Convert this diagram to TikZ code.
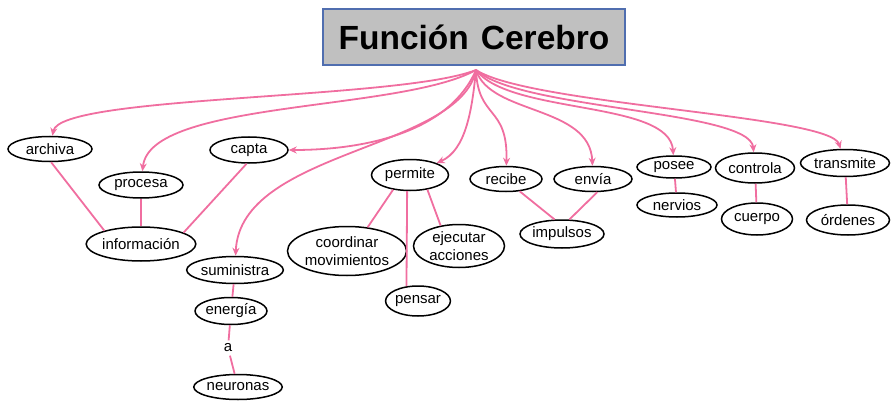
\documentclass[tikz,border=0pt]{standalone}
\usepackage{fontspec}
\setmainfont{Liberation Sans}
\usetikzlibrary{arrows.meta,shapes.geometric}
\definecolor{linkpink}{RGB}{240,110,160}
\definecolor{titlegray}{RGB}{192,192,192}
\definecolor{titleblue}{RGB}{80,110,175}
\tikzset{
	concept/.style={ellipse, draw=black, line width=1.5pt, inner sep=0pt,
			font=\fontsize{15}{17.5}\selectfont, align=center},
	link/.style={draw=linkpink, line width=1.8pt},
	arrowlink/.style={link, -{Stealth[length=8pt,width=7pt]}}
}

\begin{document}
\begin{tikzpicture}[x=1pt,y=-1pt]
	\useasboundingbox (0,0) rectangle (891,401);

	% Draw the title box
	\node[draw=titleblue, fill=titlegray, line width=1.2pt, minimum width=302, minimum height=56,
		font=\bfseries\fontsize{33.5}{38}\selectfont] (title) at (474,37) {Función\hspace{12pt}Cerebro};
	\coordinate (hub) at (476,70);

	% Left branch
	\node[concept, minimum width=84, minimum height=25] (archiva) at (50,149) {archiva};
	\node[concept, minimum width=84, minimum height=26] (procesa) at (141,185) {procesa};
	\node[concept, minimum width=78, minimum height=26] (capta) at (249,150) {capta};
	\node[concept, minimum width=98, minimum height=34] (informacion) at (141,244) {información};
	\node[concept, minimum width=91, minimum height=27] (suministra) at (235,270) {suministra};
	\node[concept, minimum width=71, minimum height=27] (energia) at (231,311) {energía};
	\node[font=\fontsize{15}{17.5}\selectfont] (a) at (228,348) {a};
	\node[concept, minimum width=85, minimum height=25] (neuronas) at (238,387) {neuronas};

	% Middle branch
	\node[concept, minimum width=105, minimum height=49] (coordinar) at (347,251) {coordinar\\movimientos};
	\node[concept, minimum width=77, minimum height=31] (permite) at (410,175) {permite};
	\node[concept, minimum width=91, minimum height=43] (ejecutar) at (459,246) {ejecutar\\acciones};
	\node[concept, minimum width=62, minimum height=30] (pensar) at (418,301) {pensar};
	\node[concept, minimum width=72, minimum height=25] (recibe) at (506,179) {recibe};
	\node[concept, minimum width=78, minimum height=25] (envia) at (593,179) {envía};
	\node[concept, minimum width=84, minimum height=28] (impulsos) at (562,234) {impulsos};

	% Right branch
	\node[concept, minimum width=74, minimum height=22] (posee) at (674,167) {posee};
	\node[concept, minimum width=80, minimum height=24] (nervios) at (677,205) {nervios};
	\node[concept, minimum width=79, minimum height=30] (controla) at (755,168) {controla};
	\node[concept, minimum width=71, minimum height=32] (cuerpo) at (757,219) {cuerpo};
	\node[concept, minimum width=89, minimum height=27] (transmite) at (845,163) {transmite};
	\node[concept, minimum width=83, minimum height=30] (ordenes) at (848,220) {órdenes};

	% Arrows from the title
	\draw[arrowlink] (hub) .. controls (400,100) and (60,95) .. (archiva);
	\draw[arrowlink] (hub) .. controls (400,112) and (150,100) .. (procesa);
	\draw[arrowlink] (hub) .. controls (450,130) and (370,150) .. (capta);
	\draw[arrowlink] (hub) .. controls (460,150) and (240,150) .. (suministra);
	\draw[arrowlink] (hub) .. controls (472,110) and (466,150) .. (permite);
	\draw[arrowlink] (hub) .. controls (478,120) and (508,105) .. (recibe);
	\draw[arrowlink] (hub) .. controls (490,115) and (590,105) .. (envia);
	\draw[arrowlink] (hub) .. controls (510,115) and (670,100) .. (posee);
	\draw[arrowlink] (hub) .. controls (520,110) and (750,110) .. (controla);
	\draw[arrowlink] (hub) .. controls (530,105) and (830,115) .. (transmite);

	% Plain links
	\draw[link] (archiva.-85) -- (informacion.160);
	\draw[link] (procesa) -- (informacion);
	\draw[link] (capta.-100) -- (informacion.15);
	\draw[link] (suministra) -- (energia);
	\draw[link] (energia) -- (a);
	\draw[link] (a) -- (neuronas);
	\draw[link] (permite.-139) -- (coordinar.49);
	\draw[link] (permite.-100) -- (pensar.128);
	\draw[link] (permite.-40) -- (ejecutar.132);
	\draw[link] (recibe.-42) -- (impulsos.117);
	\draw[link] (envia.-72) -- (impulsos.63);
	\draw[link] (posee) -- (nervios);
	\draw[link] (controla) -- (cuerpo);
	\draw[link] (transmite) -- (ordenes);
\end{tikzpicture}
\end{document}
